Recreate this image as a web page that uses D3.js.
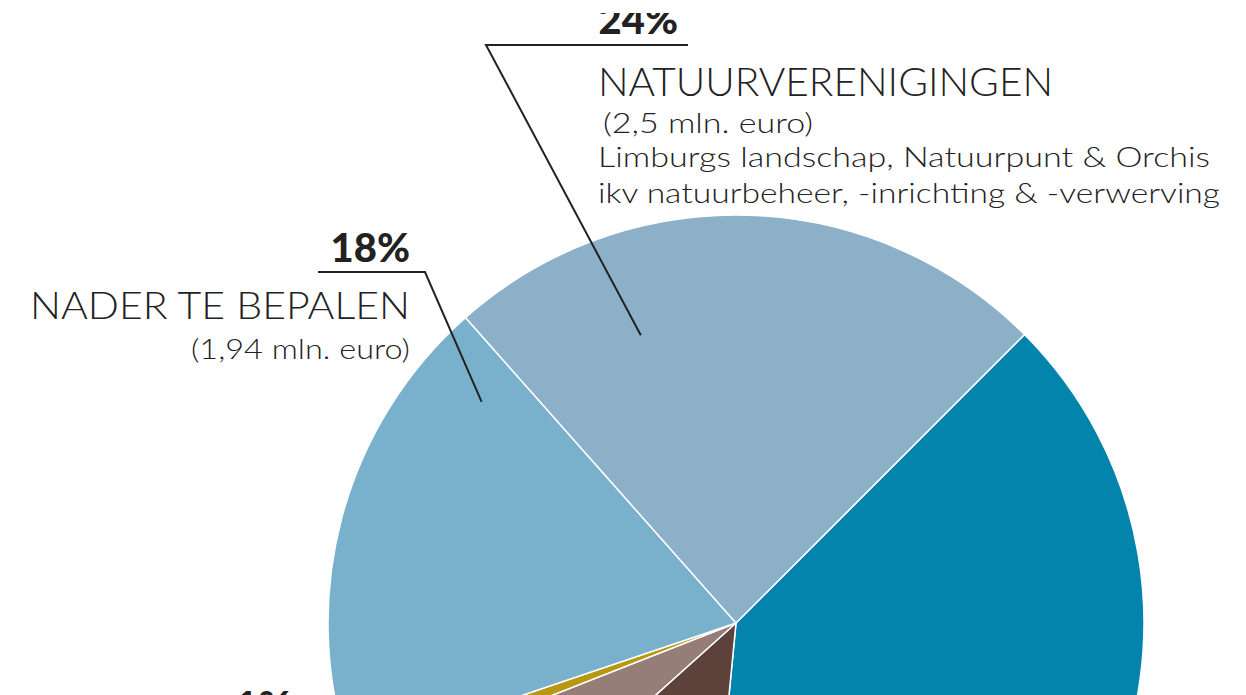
<!DOCTYPE html>
<meta charset="utf-8">
<style>
  body { margin: 0; background: #fff; }
  text { font-family: Lato, "Open Sans", sans-serif; fill: #222; }
</style>
<svg width="1246" height="695"></svg>
<script src="https://cdn.jsdelivr.net/npm/d3@7"></script>
<script>

// slices, clockwise from the teal one (mln. euro)
var categories = ["blauw", "donkerbruin", "grijsbruin", "geel", "nader", "natuur"];
var values = [4.06, 1.23, 0.59, 0.08, 1.94, 2.5];
var colors = ["#0384ac", "#5d413b", "#967d77", "#b89812", "#79b0cc", "#8bb0c8"];

// labels: percent, title, sub lines
var pctLabels = ["24%", "18%", "1%"];
var titleLabels = ["NATUURVERENIGINGEN", "NADER TE BEPALEN"];
var subLabels = ["(2,5 mln. euro)", "(1,94 mln. euro)"];
var extraLines = ["Limburgs landschap, Natuurpunt & Orchis", "ikv natuurbeheer, -inrichting & -verwerving"];

var svg = d3.select("svg"),
    cx = 736, cy = 623, r = 408;

var g = svg.append("g").attr("transform", "translate(" + cx + "," + cy + ")");

var startAngle = Math.PI / 4;
var pie = d3.pie().sort(null).value(function(d) { return d; })
    .startAngle(startAngle).endAngle(startAngle + 2 * Math.PI);
var arc = d3.arc().innerRadius(0).outerRadius(r);

var arcs = pie(values);

g.selectAll("path.slice")
  .data(arcs)
  .enter().append("path")
    .attr("class", "slice")
    .attr("d", arc)
    .attr("fill", function(d, i) { return colors[i]; })
    .attr("stroke", "#fff")
    .attr("stroke-width", 1.5);

// leader lines: point inside the slice -> elbow -> horizontal underline
// anchor given as angle (deg, clockwise from top) and fraction of radius
function anchor(deg, frac) {
  var a = deg * Math.PI / 180;
  return [cx + Math.sin(a) * r * frac, cy - Math.cos(a) * r * frac];
}

var leaders = [
  [anchor(-18.3, 0.743), [486, 45], [688, 45]],
  [anchor(-49, 0.826), [425, 272], [318, 272]]
];

svg.selectAll("path.leader")
  .data(leaders)
  .enter().append("path")
    .attr("class", "leader")
    .attr("d", d3.line())
    .attr("fill", "none")
    .attr("stroke", "#222")
    .attr("stroke-width", 2);

// the top label is cut off in the original
svg.append("clipPath").attr("id", "topcut")
  .append("rect").attr("x", 0).attr("y", 13).attr("width", 1246).attr("height", 682);

// percentages
svg.append("text").attr("x", 678).attr("y", 34).attr("text-anchor", "end")
  .attr("clip-path", "url(#topcut)")
  .style("font-size", "40px").style("font-weight", 900).text(pctLabels[0]);
svg.append("text").attr("x", 410).attr("y", 262).attr("text-anchor", "end")
  .style("font-size", "40px").style("font-weight", 900).text(pctLabels[1]);
svg.append("text").attr("x", 235).attr("y", 720)
  .style("font-size", "40px").style("font-weight", 900).text(pctLabels[2]);

// natuurverenigingen block
svg.append("text").attr("x", 598).attr("y", 96)
  .attr("textLength", 455).attr("lengthAdjust", "spacingAndGlyphs")
  .style("font-size", "39px").style("font-weight", 300).text(titleLabels[0]);
svg.append("text").attr("x", 603).attr("y", 133)
  .attr("textLength", 210).attr("lengthAdjust", "spacingAndGlyphs")
  .style("font-size", "27px").style("font-weight", 300).text(subLabels[0]);
svg.append("text").attr("x", 598).attr("y", 167)
  .attr("textLength", 612).attr("lengthAdjust", "spacingAndGlyphs")
  .style("font-size", "28px").style("font-weight", 300).text(extraLines[0]);
svg.append("text").attr("x", 598).attr("y", 203)
  .attr("textLength", 622).attr("lengthAdjust", "spacingAndGlyphs")
  .style("font-size", "28px").style("font-weight", 300).text(extraLines[1]);

// nader te bepalen block
svg.append("text").attr("x", 410).attr("y", 319).attr("text-anchor", "end")
  .attr("textLength", 380).attr("lengthAdjust", "spacingAndGlyphs")
  .style("font-size", "37px").style("font-weight", 300).text(titleLabels[1]);
svg.append("text").attr("x", 410).attr("y", 359).attr("text-anchor", "end")
  .attr("textLength", 219).attr("lengthAdjust", "spacingAndGlyphs")
  .style("font-size", "27px").style("font-weight", 300).text(subLabels[1]);

</script>
